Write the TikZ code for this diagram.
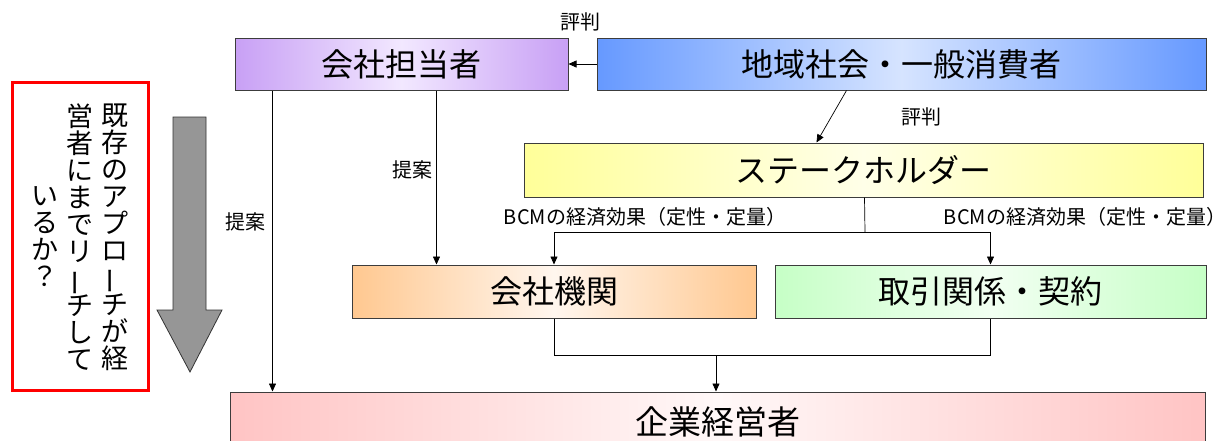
\documentclass[tikz,border=0pt]{standalone}
\usepackage{fontspec}
\setmainfont{Noto Sans CJK JP}
\usepackage{graphicx}
\usetikzlibrary{arrows.meta}
\definecolor{lilE}{HTML}{C8A0F5}\definecolor{lilC}{HTML}{F2E8FF}
\definecolor{bluE}{HTML}{6699FF}\definecolor{bluC}{HTML}{D6E4FF}
\definecolor{yelE}{HTML}{FFFF99}\definecolor{yelC}{HTML}{FFFFE8}
\definecolor{orE}{HTML}{FFC890}\definecolor{orC}{HTML}{FFF6EE}
\definecolor{grE}{HTML}{C6FFC6}\definecolor{grC}{HTML}{F2FFF2}
\definecolor{pkE}{HTML}{FFC4C4}\definecolor{pkC}{HTML}{FFF8F8}
\definecolor{edge}{HTML}{3C3C3C}
\definecolor{arrgray}{HTML}{969696}
\newcommand{\vbar}{\smash{\rotatebox[origin=c]{90}{ー}}}
\begin{document}
\begin{tikzpicture}[x=1pt,y=-1pt]
\tikzset{
  box/.style={draw=edge, line width=1pt, inner sep=0pt, font=\fontsize{32}{32}\selectfont},
  shade3/.style 2 args={left color=#1, right color=#1, middle color=#2},
  arr/.style={line width=0.7pt, -{Triangle[length=8pt,width=7pt]}},
  lab/.style={font=\fontsize{20}{20}\selectfont, inner sep=0pt},
  vcol/.style={font=\fontsize{27}{27}\selectfont, align=center, inner sep=0pt},
}
\useasboundingbox (0,0) rectangle (1229,440);
\fill[white] (0,0) rectangle (1229,440);

% boxes
\node[box, shade3={lilE}{lilC}, minimum width=333pt, minimum height=52pt] (tanto) at (401.5,64) {会社担当者};
\node[box, shade3={bluE}{bluC}, minimum width=609pt, minimum height=52pt] (chiiki) at (901.5,64) {地域社会・一般消費者};
\node[box, shade3={yelE}{yelC}, minimum width=679pt, minimum height=54pt] (stake) at (863.5,170) {ステークホルダー};
\node[box, shade3={orE}{orC}, minimum width=404pt, minimum height=53pt] (kikan) at (554,291.5) {会社機関};
\node[box, shade3={grE}{grC}, minimum width=431pt, minimum height=53pt] (torihiki) at (990.5,291.5) {取引関係・契約};
\node[box, shade3={pkE}{pkC}, minimum width=975pt, minimum height=60pt, font=\fontsize{33}{33}\selectfont] (keiei) at (717.5,422) {企業経営者};

% connectors
\draw[arr] (chiiki.west) -- (tanto.east);
\node[lab] (l1) at (580,22) {評判};
\draw[arr] ([xshift=250pt]chiiki.south west) -- ([xshift=293pt]stake.north west);
\node[lab] (l2) at (921,117) {評判};
\draw[arr] ([xshift=202pt]tanto.south west) -- ([xshift=85pt]kikan.north west);
\node[lab] (l3) at (412,170) {提案};
\draw[arr] ([xshift=38pt]tanto.south west) -- ([xshift=43pt]keiei.north west);
\node[lab] (l4) at (245,222) {提案};

\coordinate (fork) at (865,232);
\draw[line width=0.7pt] ([xshift=341pt]stake.south west) -- (fork);
\draw[arr] (fork) -| (kikan.north);
\draw[arr] (fork) -| (torihiki.north);
\node[lab] (l5) at (645,217) {BCMの経済効果（定性・定量）};
\node[lab] (l6) at (1085,217) {BCMの経済効果（定性・定量）};

\coordinate (join) at (716,355);
\draw[line width=0.7pt] (kikan.south) -- (kikan.south |- join) -- (torihiki.south |- join) -- (torihiki.south);
\draw[arr] (join) -- (join |- keiei.north);

% left: red box with vertical text and gray arrow
\node[draw=red, line width=3pt, minimum width=136pt, minimum height=308pt, inner sep=0pt] (redbox) at (80,236) {};
\node[vcol] (c1) at (115,237) {既\\存\\の\\ア\\プ\\ロ\\\vbar\\チ\\が\\経};
\node[vcol] (c2) at (80,237) {営\\者\\に\\ま\\で\\リ\\\vbar\\チ\\し\\て};
\node[vcol] (c3) at (45,237) {い\\る\\か\\？};
\filldraw[fill=arrgray, draw=black!80, line width=0.8pt]
  (173,117) -- (206,117) -- (206,310) -- (222,310) -- (190,372) -- (157,310) -- (173,310) -- cycle;
\end{tikzpicture}
\end{document}
